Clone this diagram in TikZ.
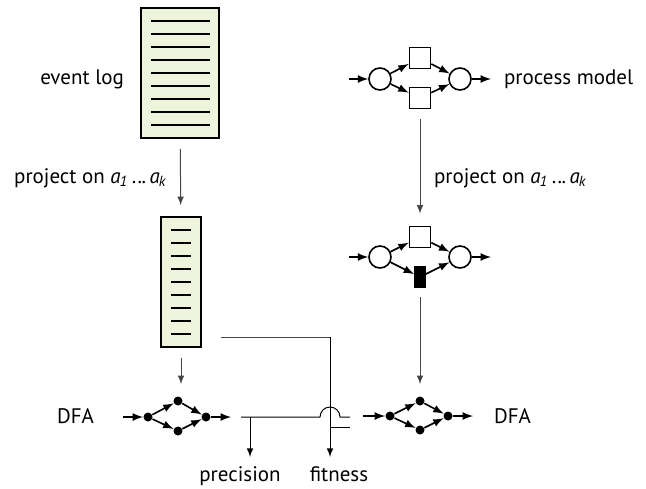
\documentclass[tikz,border=0pt]{standalone}
\usepackage{fontspec}
\setmainfont{PT Sans}
\usetikzlibrary{positioning}

\definecolor{logfill}{RGB}{239,245,220}
\definecolor{projgray}{RGB}{70,70,70}

\tikzset{
  logbox/.style={draw,fill=logfill,line width=0.8pt,inner sep=0pt},
  place/.style={circle,draw,line width=0.8pt,minimum size=11pt,inner sep=0pt},
  trans/.style={rectangle,draw,line width=0.8pt,minimum size=10.5pt,inner sep=0pt},
  silent/.style={rectangle,draw,fill=black,minimum width=5.5pt,minimum height=10.5pt,inner sep=0pt},
  dfastate/.style={circle,fill=black,minimum size=4.5pt,inner sep=0pt},
  flow/.style={->,line width=0.8pt},
  proj/.style={->,projgray,line width=0.5pt},
  wire/.style={line width=0.5pt},
  lbl/.style={font=\fontsize{10.5}{12}\selectfont}
}
\newcommand{\projtext}{project on \textit{a}\textsubscript{\kern-0.5pt\textit{1}}\,..\kern-0.3pt.\,\textit{a}\textsubscript{\kern-0.5pt\textit{k}}}

\begin{document}
\begin{tikzpicture}[>=latex,x=0.5pt,y=-0.5pt]
\useasboundingbox (0,0) rectangle (646,488);

% logs
\node (elog) [logbox,minimum width=39pt,minimum height=65pt] at (180,73) {};
\foreach \y in {21,34,...,125} \draw[line width=0.6pt] (151,\y) -- (210,\y);
\node (slog) [logbox,minimum width=20pt,minimum height=65pt] at (181,282) {};
\foreach \y in {230,243,...,334} \draw[line width=0.6pt] (171,\y) -- (191,\y);

\node (elogtxt) [lbl,anchor=east] at (131,79) {event log};
\node (projl) [lbl,anchor=east] at (174,178) {\projtext};

% process model and its projection
\coordinate (pmin) at (349,79);
\node (p1) [place] at (380,79) {};
\node (t1) [trans] at (420,58) {};
\node (t2) [trans] at (420,98) {};
\node (p2) [place] at (460,79) {};
\coordinate (pmout) at (491,79);
\node (pmtxt) [lbl,anchor=west] at (497,79) {process model};

\coordinate (ppin) at (349,257);
\node (p3) [place] at (380,257) {};
\node (t3) [trans] at (420,237) {};
\node (t4) [silent] at (420,277) {};
\node (p4) [place] at (460,257) {};
\coordinate (ppout) at (491,257);
\node (projr) [lbl,anchor=west] at (427,178) {\projtext};

% DFAs
\coordinate (dlin) at (123,417);
\node (dl1) [dfastate] at (148,417) {};
\node (dl2) [dfastate] at (178,401) {};
\node (dl3) [dfastate] at (178,431) {};
\node (dl4) [dfastate] at (206,417) {};
\coordinate (dlout) at (231,417);
\node (dfal) [lbl,anchor=east] at (101,416) {DFA};

\coordinate (drin) at (363,416);
\node (dr1) [dfastate] at (390,416) {};
\node (dr2) [dfastate] at (420,401) {};
\node (dr3) [dfastate] at (420,430) {};
\node (dr4) [dfastate] at (448,416) {};
\coordinate (drout) at (473,416);
\node (dfar) [lbl,anchor=west] at (487,416) {DFA};

\path [flow]
    (pmin) edge (p1) (p1) edge (t1) (p1) edge (t2)
    (t1) edge (p2) (t2) edge (p2) (p2) edge (pmout)
    (ppin) edge (p3) (p3) edge (t3) (p3) edge (t4)
    (t3) edge (p4) (t4) edge (p4) (p4) edge (ppout)
    (dlin) edge (dl1) (dl1) edge (dl2) (dl1) edge (dl3)
    (dl2) edge (dl4) (dl3) edge (dl4) (dl4) edge (dlout)
    (drin) edge (dr1) (dr1) edge (dr2) (dr1) edge (dr3)
    (dr2) edge (dr4) (dr3) edge (dr4) (dr4) edge (drout)
;

\draw[proj,shorten <=5pt,shorten >=5.5pt] (elog) -- (slog);
\draw[proj,shorten <=5pt,shorten >=6pt] (slog.south) -- (slog.south |- dl2.north);
\draw[proj,shorten <=5pt,shorten >=6pt] (t2) -- (t3);
\draw[proj,shorten <=4.5pt,shorten >=6pt] (t4) -- (dr2);

% conformance
\node (prec) [lbl,anchor=base] at (240,481) {precision};
\node (fit) [lbl,anchor=base] at (339,481) {fitness};
\coordinate (fitsrc) at (221,337);
\coordinate (fitturn) at (330,337);
\coordinate (fitend) at (330,457);
\coordinate (fitjoin) at (330,427);
\coordinate (fittap) at (350,427);
\coordinate (prectap) at (350,417);
\coordinate (hop) at (340,417);
\coordinate (precend) at (241,417);
\coordinate (precturn) at (250,417);
\coordinate (precdown) at (250,457);

\draw[wire,projgray] (fitsrc) -- (fitturn);
\draw[wire,->] (fitturn) -- (fitend);
\draw[wire] (fittap) -- (fitjoin);
\draw[wire] (prectap) -- (hop) arc[start angle=0,end angle=180,radius=5pt] -- (precend);
\draw[wire,->] (precturn) -- (precdown);

\end{tikzpicture}
\end{document}
